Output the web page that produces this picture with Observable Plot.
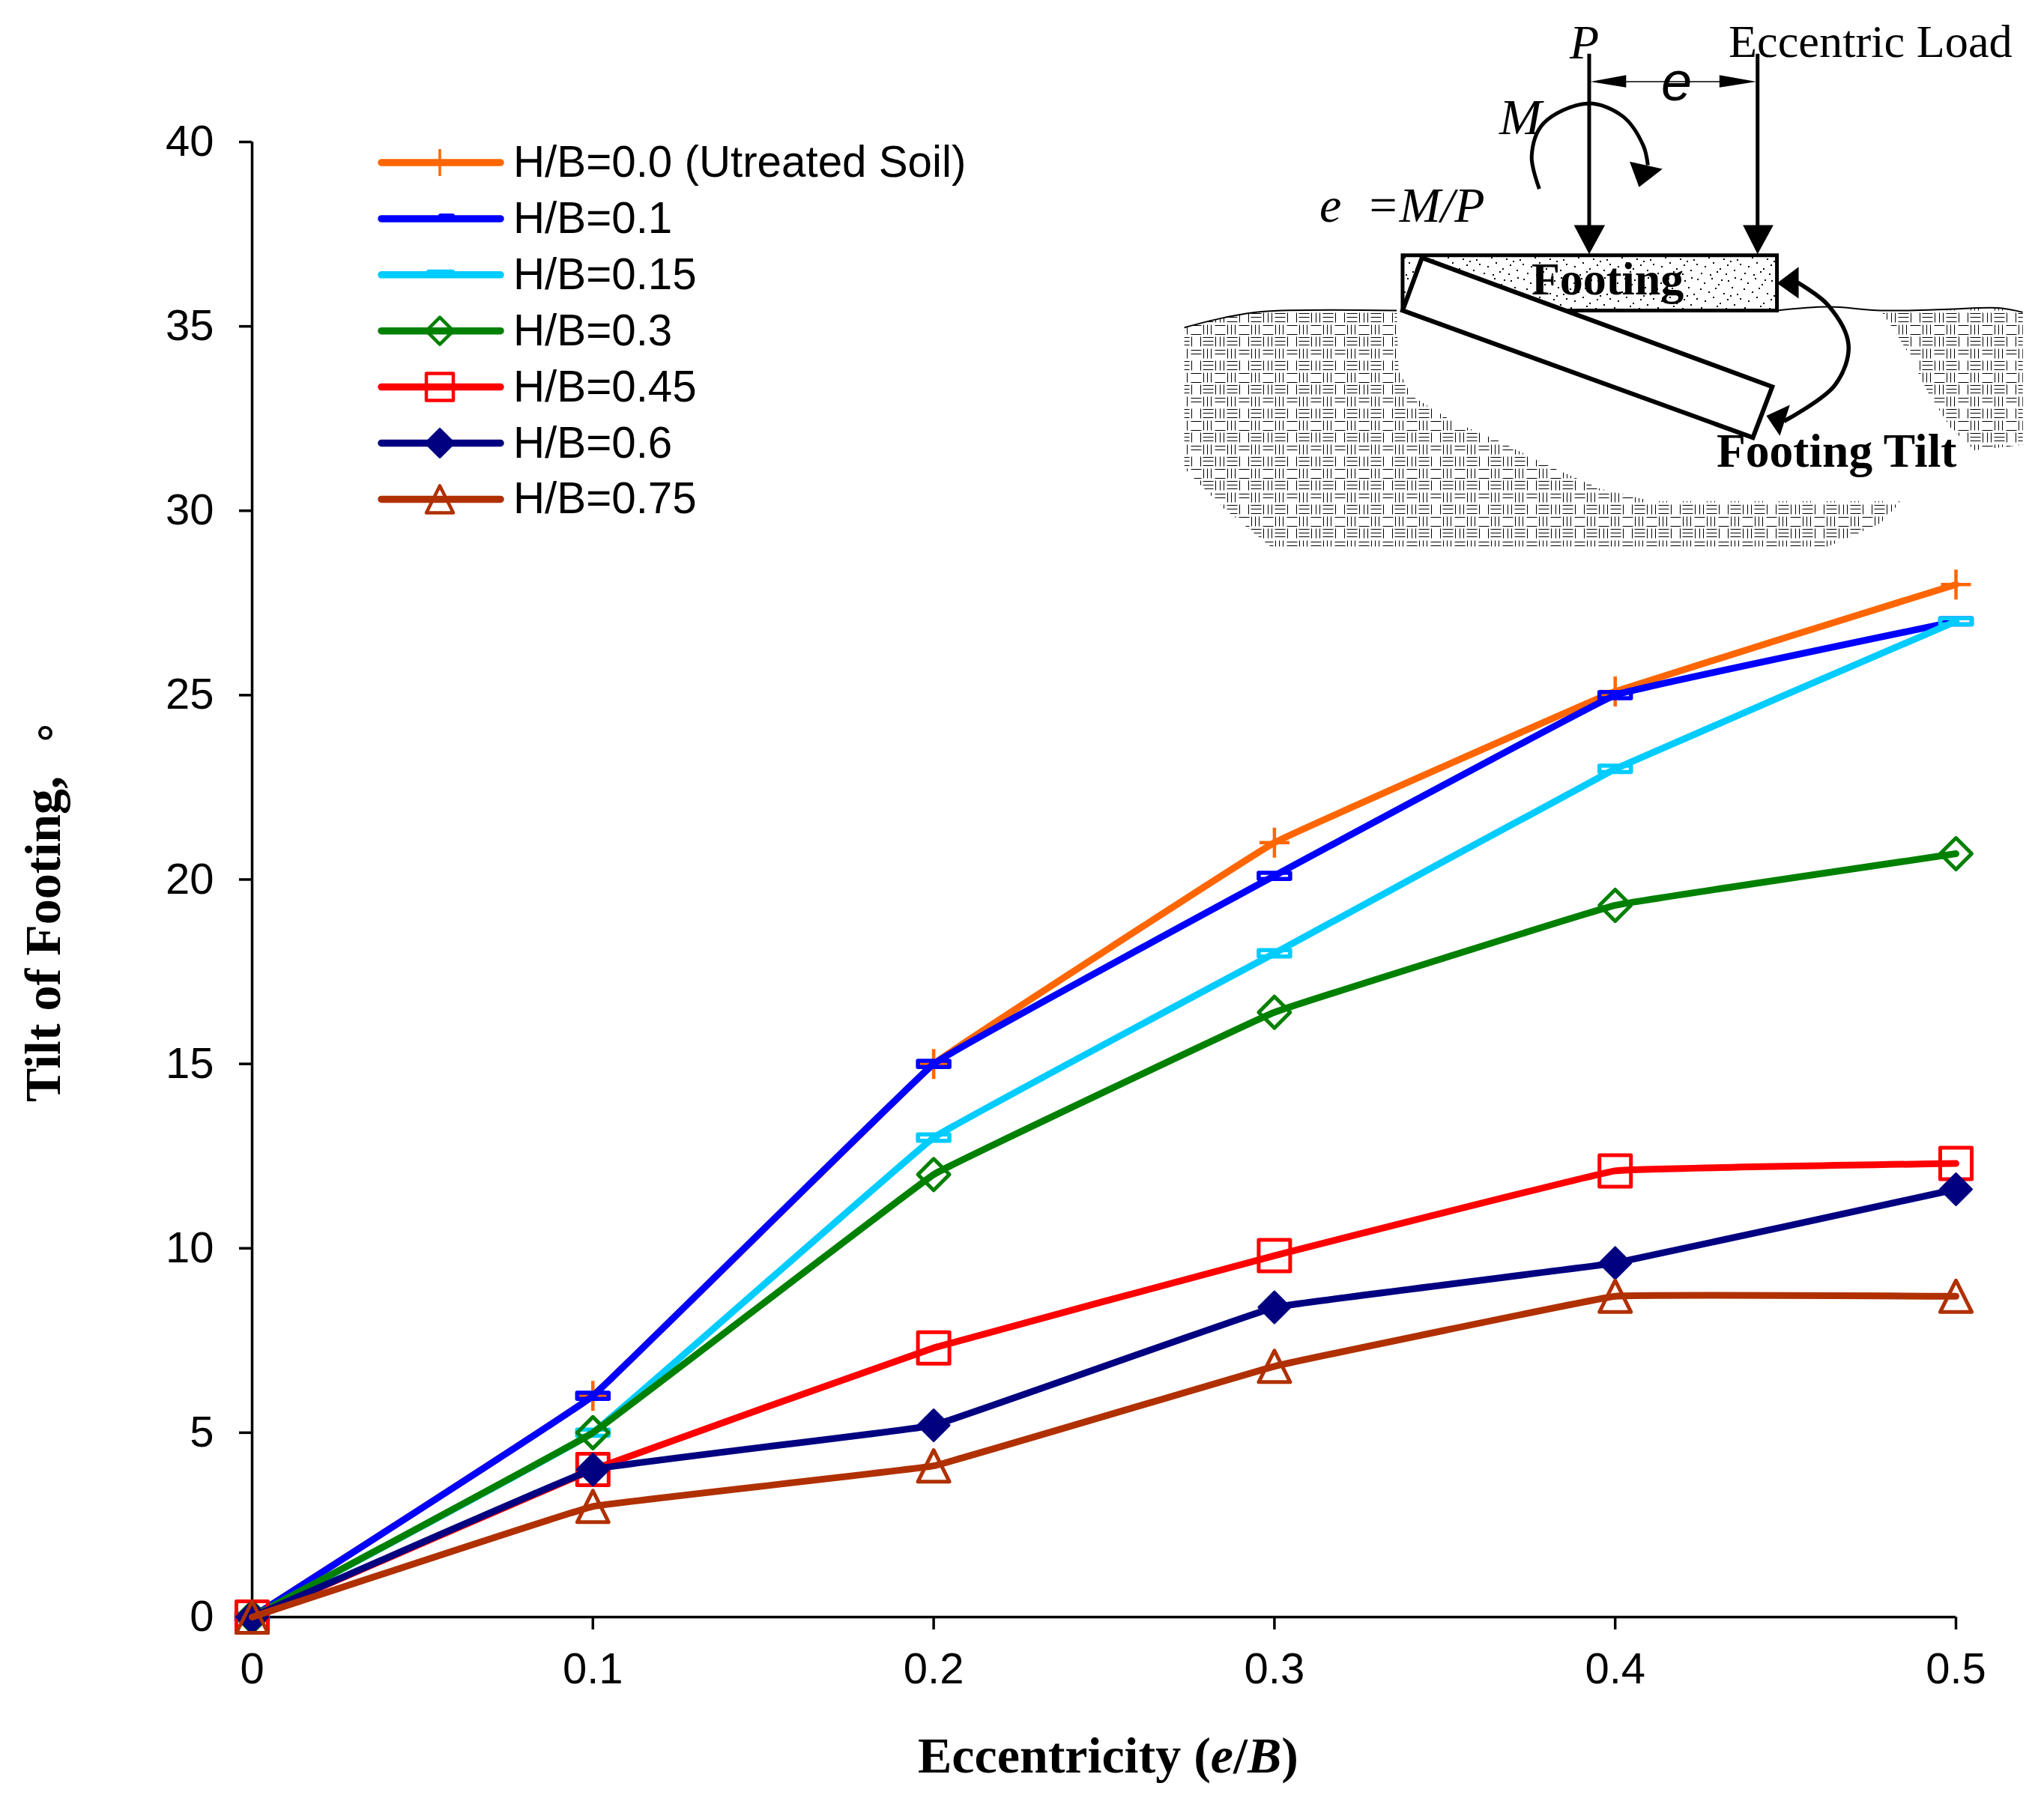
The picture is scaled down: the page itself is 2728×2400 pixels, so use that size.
<!DOCTYPE html>
<html>
<head>
<meta charset="utf-8">
<script src="https://cdn.jsdelivr.net/npm/d3@7"></script>
<script src="https://cdn.jsdelivr.net/npm/@observablehq/plot@0.6"></script>
<style>
html,body{margin:0;padding:0;background:#fff}
svg{display:block}
</style>
</head>
<body>
<div id="chart"></div>
<script>
// ---- data ----
const eccentricity = [0, 0.1, 0.2, 0.3, 0.4, 0.5];
const hb000 = [0, 6, 15, 21, 25.1, 28];
const hb010 = [0, 6, 15, 20.1, 25, 27];
const hb015 = [0, 5, 13, 18, 23, 27];
const hb030 = [0, 5, 12, 16.4, 19.3, 20.7];
const hb045 = [0, 4, 7.3, 9.8, 12.1, 12.3];
const hb060 = [0, 4, 5.2, 8.4, 9.6, 11.6];
const hb075 = [0, 3, 4.1, 6.8, 8.7, 8.7];
const seriesNames = ["H/B=0.0 (Utreated Soil)", "H/B=0.1", "H/B=0.15", "H/B=0.3", "H/B=0.45", "H/B=0.6", "H/B=0.75"];
const seriesValues = [hb000, hb010, hb015, hb030, hb045, hb060, hb075];
const seriesColors = ["#ff6600", "#0000ff", "#00ccff", "#008000", "#ff0000", "#000080", "#b03000"];
const xTicks = [0, 0.1, 0.2, 0.3, 0.4, 0.5];
const yTicks = [0, 5, 10, 15, 20, 25, 30, 35, 40];

// ---- marker shapes ----
const unit = (size) => Math.sqrt(size / Math.PI);
const plus = {draw(c, s){const r = unit(s); c.moveTo(-r,0); c.lineTo(r,0); c.moveTo(0,-r); c.lineTo(0,r);}};
const dash = {draw(c, s){const r = unit(s), h = r*0.2; c.moveTo(-r,-h); c.lineTo(r,-h); c.lineTo(r,h); c.lineTo(-r,h); c.closePath();}};
const diamond = {draw(c, s){const r = unit(s); c.moveTo(0,-r); c.lineTo(r,0); c.lineTo(0,r); c.lineTo(-r,0); c.closePath();}};
const square = {draw(c, s){const r = unit(s); c.moveTo(-r,-r); c.lineTo(r,-r); c.lineTo(r,r); c.lineTo(-r,r); c.closePath();}};
const triangle = {draw(c, s){const r = unit(s); c.moveTo(0,-r); c.lineTo(r,r); c.lineTo(-r,r); c.closePath();}};
const seriesSymbols = [plus, dash, dash, diamond, square, diamond, triangle];
const seriesFilled = [false, false, false, false, false, true, false];
const seriesMarkerWidth = [4.5, 5.5, 5.5, 5, 5, 3, 5];

const table = (i) => eccentricity.map((e, k) => ({e, v: seriesValues[i][k]}));

const seriesMarks = seriesNames.flatMap((name, i) => [
  Plot.line(table(i), {x:"e", y:"v", stroke: seriesColors[i], strokeWidth: 9, strokeLinecap:"round", strokeLinejoin:"round", curve:"cardinal", tension:0.85}),
  Plot.dot(table(i), {x:"e", y:"v", symbol: seriesSymbols[i], r: i===0 ? 20 : 21,
    stroke: seriesColors[i], strokeWidth: seriesMarkerWidth[i], fill: seriesFilled[i] ? seriesColors[i] : "none", strokeLinejoin: "round"})
]);

// ---- legend (inside the plot frame) ----
function legend(){
  const g = d3.create("svg:g").attr("text-anchor","start");
  const sx = 509, ex = 668, cx = 587, top = 217, step = 74.9;
  seriesNames.forEach((name, i) => {
    const y = top + i*step, col = seriesColors[i];
    g.append("line").attr("x1",sx).attr("x2",ex).attr("y1",y).attr("y2",y)
      .attr("stroke",col).attr("stroke-width",9.5).attr("stroke-linecap","round");
    if (i===1 || i===2) {
      const w = i===1 ? 22 : 38, xc = i===1 ? 596 : 588;
      g.append("rect").attr("x",xc-w/2).attr("y",y-7).attr("width",w).attr("height",6).attr("rx",3).attr("fill",col);
    } else {
      const path = d3.symbol().type(seriesSymbols[i]).size(Math.PI*18*18)();
      g.append("path").attr("d",path).attr("transform",`translate(${cx},${y})`)
        .attr("stroke",col).attr("stroke-width",i===0?3.5:4.5).attr("fill",seriesFilled[i]?col:"none").attr("stroke-linejoin","round");
    }
    g.append("text").attr("x",685).attr("y",y+19).text(name)
      .attr("font-family","Liberation Sans").attr("font-size",58.3).attr("fill","#000");
  });
  return g.node();
}

// ---- axis titles ----
function axisTitles(){
  const g = d3.create("svg:g").attr("text-anchor","start").attr("font-family","Liberation Serif").attr("font-weight","bold").attr("font-size",68).attr("fill","#000");
  const xt = g.append("text").attr("x",1225).attr("y",2366);
  xt.append("tspan").text("Eccentricity (");
  xt.append("tspan").attr("font-style","italic").text("e");
  xt.append("tspan").text("/");
  xt.append("tspan").attr("font-style","italic").text("B");
  xt.append("tspan").text(")");
  g.append("text").attr("transform","translate(80,1471) rotate(-90)").text("Tilt of Footing,");
  g.append("text").attr("transform","translate(80,997) rotate(-90)").attr("font-weight","normal").attr("font-size",60).text("∘");
  return g.node();
}

// ---- schematic inset ----
function inset(){
  const P = (zx, zy) => [1500 + zx/1.277, zy/2.063];
  const d = (pts, close=true) => "M" + pts.map(p => P(p[0],p[1]).join(",")).join("L") + (close ? "Z" : "");
  const smooth = (pts) => d3.line().curve(d3.curveCatmullRom)(pts.map(p => P(p[0],p[1])));
  const g = d3.create("svg:g").attr("text-anchor","start");
  const defs = g.append("defs");

  const weave = defs.append("pattern").attr("id","weave").attr("patternUnits","userSpaceOnUse")
    .attr("x",1605).attr("y",432).attr("width",64).attr("height",64);
  weave.append("rect").attr("width",64).attr("height",64).attr("fill","#fff");
  const wl = (x1,y1,x2,y2) => weave.append("line").attr("x1",x1+.5).attr("y1",y1+.5).attr("x2",x2+.5).attr("y2",y2+.5).attr("stroke","#000").attr("stroke-width",1);
  const vCell = (c, r, offs) => offs.forEach(o => wl(c*16+o, r*16+1, c*16+o, r*16+14));
  const hCell = (c, r, offs) => offs.forEach(o => wl(c*16, r*16+o, c*16+14, r*16+o));
  [0,2].forEach(c => {
    vCell(c,0,[1,6,11]); vCell(c,2,[1,6,11]);
    hCell(c,1,[2,7,12]); hCell(c,3,[2,7,13]);
  });
  [1,3].forEach(c => { hCell(c,0,[2,14]); hCell(c,2,[3,8]); });
  vCell(1,1,[1,7,12]); vCell(1,3,[1,7,12]);
  vCell(3,1,[1,13]); vCell(3,3,[1,13]);

  const stip = defs.append("pattern").attr("id","stipple").attr("patternUnits","userSpaceOnUse")
    .attr("width",58).attr("height",46);
  stip.append("rect").attr("width",58).attr("height",46).attr("fill","#fff");
  [[3,4],[12,9],[22,3],[31,11],[44,6],[53,2],[7,17],[18,21],[27,16],[38,23],[49,15],[56,24],[2,30],[13,33],[24,28],[33,36],[43,31],[52,38],[8,42],[20,44],[29,40],[41,43],[35,5],[47,26]]
    .forEach(([x,y]) => stip.append("rect").attr("x",x).attr("y",y).attr("width",2).attr("height",2).attr("fill","#000"));

  // soil
  g.append("path").attr("fill","url(#weave)").attr("d", d([[103,902],[170,875],[235,858],[465,855],[468,1020],[490,1090],[560,1160],[640,1215],[720,1280],[810,1345],[900,1380],[1325,1380],[1290,1440],[1235,1480],[1200,1505],[250,1505],[170,1400],[103,1290]]));
  g.append("path").attr("fill","url(#weave)").attr("d", d([[1290,855],[1400,852],[1490,848],[1532,860],[1532,1225],[1450,1240],[1410,1180],[1370,1080],[1340,980],[1305,890]]));
  // ground surface
  g.append("path").attr("fill","none").attr("stroke","#000").attr("stroke-width",2).attr("d", smooth([[103,902],[170,875],[235,858],[465,855]]));
  g.append("path").attr("fill","none").attr("stroke","#000").attr("stroke-width",2).attr("d", smooth([[1113,855],[1200,845],[1290,855],[1400,852],[1490,848],[1532,860]]));
  // footing
  g.append("path").attr("fill","url(#stipple)").attr("stroke","#000").attr("stroke-width",5).attr("d", d([[475,703],[1113,703],[1113,855],[475,855]]));
  // tilted footing
  g.append("path").attr("fill","#fff").attr("stroke","#000").attr("stroke-width",6).attr("stroke-linejoin","miter").attr("d", d([[508,710],[475,855],[1072,1205],[1105,1065]]));
  const lines = (pts, w) => g.append("path").attr("fill","none").attr("stroke","#000").attr("stroke-width",w).attr("d", d(pts,false));
  const solid = (pts) => g.append("path").attr("fill","#000").attr("d", d(pts));
  // load arrows
  lines([[793,148],[793,640]],5); solid([[767,620],[820,620],[793,700]]);
  lines([[1080,148],[1080,640]],5); solid([[1055,620],[1107,620],[1080,700]]);
  // e dimension
  lines([[840,225],[1030,225]],1.5); solid([[795,225],[856,207],[856,241]]); solid([[1078,225],[1015,207],[1015,241]]);
  // moment arc
  g.append("path").attr("fill","none").attr("stroke","#000").attr("stroke-width",5).attr("d", smooth([[708,520],[695,430],[715,340],[790,285],[850,320],[885,400],[893,455]]));
  solid([[862,445],[918,465],[878,515]]);
  // tilt arc
  g.append("path").attr("fill","none").attr("stroke","#000").attr("stroke-width",5.5).attr("d", smooth([[1145,775],[1200,840],[1235,950],[1212,1060],[1125,1160]]));
  solid([[1113,780],[1150,735],[1150,822]]);
  solid([[1095,1145],[1135,1115],[1118,1200]]);
  // texts
  const serif = (x,y,t,size,opts={}) => g.append("text").attr("x",x).attr("y",y).text(t)
    .attr("font-family", opts.family || "Liberation Serif").attr("font-size",size)
    .attr("font-style",opts.italic?"italic":"normal").attr("font-weight",opts.bold?"bold":"normal").attr("fill","#000").style("white-space","pre");
  serif(2095,78,"P",64,{italic:true});
  serif(2307,76,"Eccentric Load",62.3);
  serif(2217,134,"e",74,{italic:true,family:"Liberation Sans"});
  serif(2001,179,"M",68,{italic:true});
  serif(1761,296,"e  =M/P",66,{italic:true});
  serif(2044,393,"Footing",62,{bold:true});
  serif(2291,623,"Footing Tilt",63.5,{bold:true});
  return g.node();
}

const chart = Plot.plot({
  width: 2728, height: 2400,
  marginLeft: 336, marginRight: 118, marginTop: 189, marginBottom: 242,
  style: {fontFamily: "Liberation Sans", background: "#fff", color: "#000"},
  x: {domain: [0, 0.5], type: "linear"},
  y: {domain: [0, 40], type: "linear"},
  marks: [
    inset,
    Plot.axisX({ticks: xTicks, tickFormat: d => String(d), tickSize: 17, tickPadding: 30, fontSize: 58, strokeWidth: 3.5, label: null, stroke:"#000", fill:"#000"}),
    Plot.axisY({ticks: yTicks, tickFormat: d => String(d), tickSize: 17, tickPadding: 34, fontSize: 58, strokeWidth: 3.5, label: null, stroke:"#000", fill:"#000"}),
    Plot.ruleX([0], {stroke:"#000", strokeWidth: 3.5}),
    Plot.ruleY([0], {stroke:"#000", strokeWidth: 3.5}),
    legend,
    axisTitles,
    ...seriesMarks
  ]
});
document.getElementById("chart").append(chart);
</script>
</body>
</html>
